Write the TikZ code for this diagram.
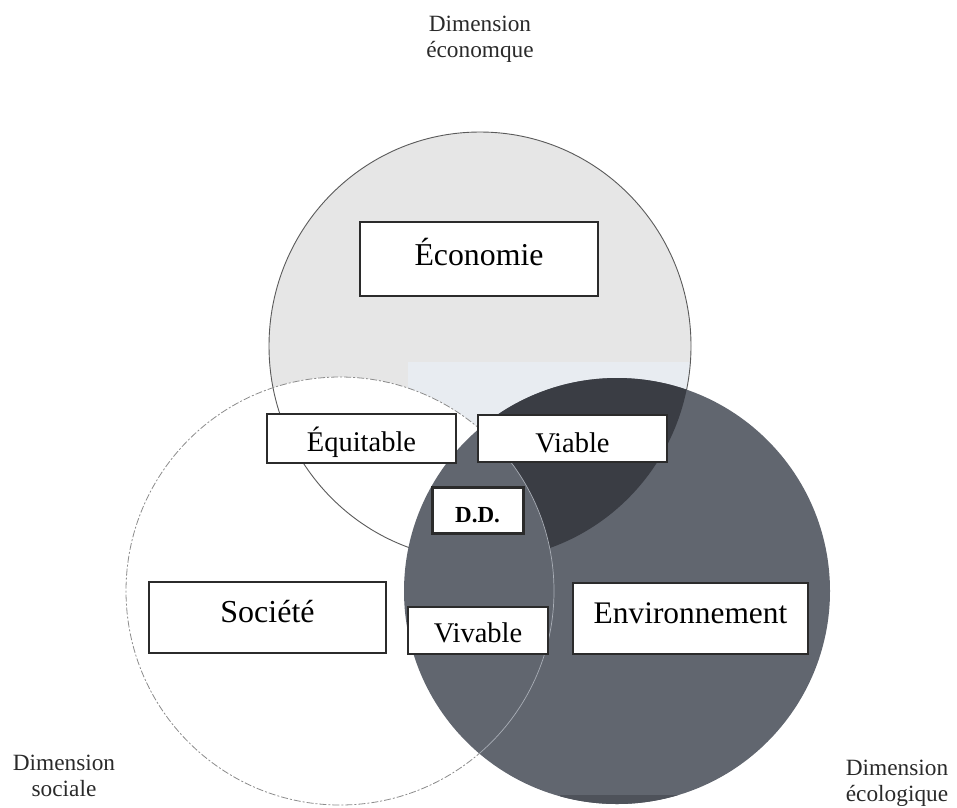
\documentclass[tikz,border=0pt]{standalone}
\usepackage{fontspec}
\setmainfont{Liberation Serif}
\definecolor{econfill}{HTML}{E6E6E6}
\definecolor{econband}{HTML}{E8ECF1}
\definecolor{econline}{HTML}{5A5A5A}
\definecolor{socline}{HTML}{8C8C8C}
\definecolor{envfill}{HTML}{61666F}
\definecolor{envdark}{HTML}{3A3D44}
\definecolor{envbottom}{HTML}{4E525A}
\definecolor{socinner}{HTML}{A9AEB6}
\definecolor{boxline}{HTML}{2B2B2B}
\definecolor{textgrey}{HTML}{2A2A2A}
\begin{document}
\begin{tikzpicture}[x=1pt,y=-1pt,
  labelbox/.style={draw=boxline, fill=white, line width=2pt, inner sep=0pt,
    anchor=base, align=center, text=black},
  dimlabel/.style={align=center, anchor=north, inner sep=0pt, text=textgrey,
    font=\fontsize{23.3}{26}\selectfont}]
\useasboundingbox (0,0) rectangle (957,807);

% economic sphere
\fill[econfill] (480,346) ellipse [x radius=211pt, y radius=214pt];
\begin{scope}
  \clip (480,346) ellipse [x radius=211pt, y radius=214pt];
  \fill[econband] (408,362) rectangle (700,470);
\end{scope}

% social sphere
\fill[white] (340,591) circle [radius=214pt];
\draw[econline, line width=0.9pt] (480,346) ellipse [x radius=211pt, y radius=214pt];
\draw[socline, line width=0.8pt, dash pattern=on 7pt off 2pt on 2pt off 2pt]
  (340,591) circle [radius=214pt];

% ecological sphere
\fill[envfill] (617,591) circle [radius=213pt];
\begin{scope}
  \clip (617,591) circle [radius=213pt];
  \fill[envbottom] (560,795) rectangle (680,807);
\end{scope}

% overlap of economy and environment outside society
\begin{scope}
  \clip (480,346) ellipse [x radius=211pt, y radius=214pt];
  \clip (617,591) circle [radius=213pt];
  \fill[envdark, even odd rule] (0,0) rectangle (957,807)
    (340,591) circle [radius=214pt];
\end{scope}

% social boundary seen through the ecological sphere
\begin{scope}
  \clip (617,591) circle [radius=213pt];
  \draw[socinner, line width=0.7pt] (340,591) circle [radius=214pt];
\end{scope}

% labelled boxes
\node[labelbox, minimum width=238pt, text height=43pt, text depth=31pt,
  font=\fontsize{31.8}{36}\selectfont] (eco) at (479,265) {Économie};
\node[labelbox, minimum width=189pt, text height=37pt, text depth=12pt,
  font=\fontsize{28.5}{32}\selectfont] (equ) at (361.5,451) {Équitable};
\node[labelbox, minimum width=189pt, text height=37pt, text depth=10pt,
  font=\fontsize{28.5}{32}\selectfont] (via) at (572.5,452) {Viable};
\node[labelbox, line width=3pt, minimum width=91pt, text height=35pt, text depth=11pt,
  font=\fontsize{23}{27}\selectfont\bfseries] (dd) at (477.5,522) {D.D.};
\node[labelbox, minimum width=237pt, text height=40pt, text depth=31pt,
  font=\fontsize{32}{36}\selectfont] (soc) at (267.5,622) {Société};
\node[labelbox, minimum width=140pt, text height=35pt, text depth=12pt,
  font=\fontsize{28.5}{32}\selectfont] (viv) at (478,642) {Vivable};
\node[labelbox, minimum width=235pt, text height=40pt, text depth=31pt,
  font=\fontsize{31.4}{36}\selectfont] (env) at (690.5,623) {Environnement};

% dimension captions
\node[dimlabel] (dimeco) at (480,16) {Dimension\\économque};
\node[dimlabel] (dimsoc) at (64,755) {Dimension\\sociale};
\node[dimlabel] (dimenv) at (897,760) {Dimension\\écologique};
\end{tikzpicture}
\end{document}
